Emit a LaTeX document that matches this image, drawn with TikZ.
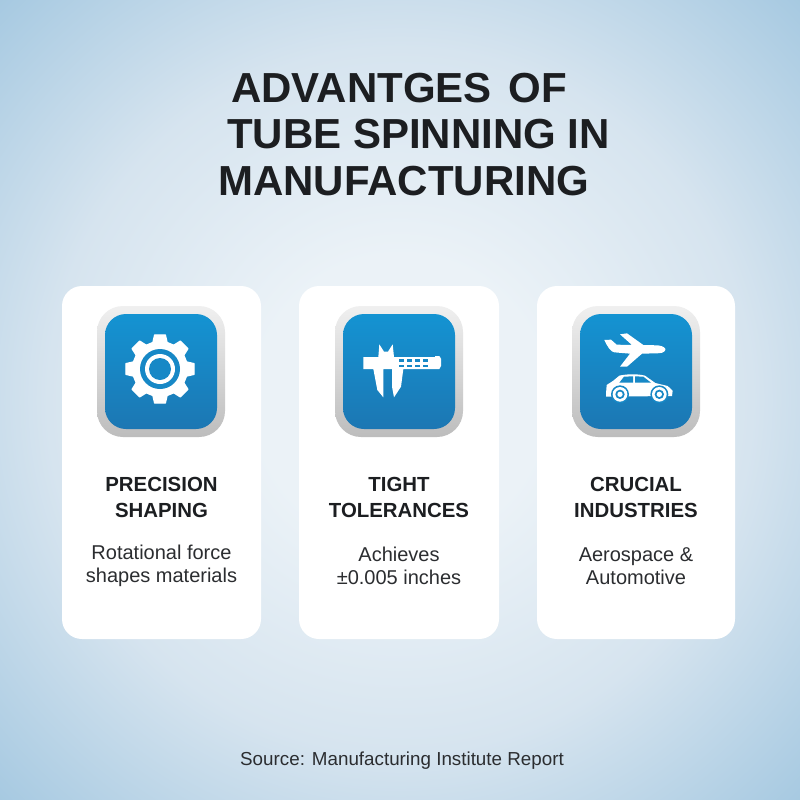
\documentclass[tikz,border=0pt]{standalone}
\usepackage{fontspec}
\setmainfont{Liberation Sans}
\definecolor{bgA}{HTML}{EBF2F7}
\definecolor{bgB}{HTML}{D6E4EF}
\definecolor{bgC}{HTML}{A6C9E1}
\definecolor{blueT}{HTML}{1493D2}
\definecolor{blueB}{HTML}{1C77B3}
\definecolor{ink}{HTML}{1C1E21}
\definecolor{body}{HTML}{2B2D30}
\pgfdeclareradialshading{bgshade}{\pgfpoint{0bp}{0bp}}{color(0bp)=(bgA); color(9bp)=(bgA); color(22bp)=(bgB); color(35.5bp)=(bgC); color(50bp)=(bgC)}
\tikzset{
  card/.style={fill=white,rounded corners=20pt},
  frame/.style={top color=black!6,bottom color=black!26,rounded corners=26pt},
  tile/.style={top color=blueT,bottom color=blueB,rounded corners=21pt},
  titletext/.style={anchor=base west,inner sep=0pt,font=\fontsize{42}{42}\selectfont\bfseries,text=ink},
  headtext/.style={align=center,inner sep=0pt,font=\fontsize{20.4}{26}\selectfont\bfseries,text=ink},
  bodytext/.style={align=center,inner sep=0pt,font=\fontsize{20}{23.5}\selectfont,text=body},
  srctext/.style={inner sep=0pt,font=\fontsize{18.8}{22}\selectfont,text=body},
  glyph/.style={fill=white},
  gearbody/.style={fill=white,draw=white,line width=1.2pt,line join=round},
  hole/.style={fill=blueT!60!blueB},
  zoomed/.style={x=0.33333pt,y=-0.33333pt}
}
\newcommand{\icontile}[2]{%
  \path[frame] (#1,306) rectangle (#2,437);
  \path[tile] (#1+8,314) rectangle (#2-8,429);
}
\begin{document}
\begin{tikzpicture}[x=1pt,y=-1pt]
\useasboundingbox (0,0) rectangle (800,800);
\shade[shading=bgshade] (0,0) rectangle (800,800);

\node[titletext] (t1) at (231,102) {ADVANTGES\hspace{5pt} OF};
\node[titletext] (t2) at (227,148) {TUBE SPINNING IN};
\node[titletext] (t3) at (218,195) {MANUFACTURING};

\path[card] (62,286) rectangle (261,639);
\path[card] (299,286) rectangle (499,639);
\path[card] (537,286) rectangle (735,639);

\icontile{97}{225}
\icontile{335}{463}
\icontile{572}{700}

% gear
\begin{scope}[shift={(160,369)}]
  \path[gearbody]
    (-9:34.5) -- (9:34.5) -- (15:27.5)
    -- (30:27.5) -- (36:34.5) -- (54:34.5) -- (60:27.5)
    -- (75:27.5) -- (81:34.5) -- (99:34.5) -- (105:27.5)
    -- (120:27.5) -- (126:34.5) -- (144:34.5) -- (150:27.5)
    -- (165:27.5) -- (171:34.5) -- (189:34.5) -- (195:27.5)
    -- (210:27.5) -- (216:34.5) -- (234:34.5) -- (240:27.5)
    -- (255:27.5) -- (261:34.5) -- (279:34.5) -- (285:27.5)
    -- (300:27.5) -- (306:34.5) -- (324:34.5) -- (330:27.5)
    -- (345:27.5) -- cycle;
  \fill[hole] (0,0) circle (20);
  \fill[glyph] (0,0) circle (15);
  \fill[hole] (0,0) circle (11);
\end{scope}

% caliper
\begin{scope}[shift={(320,290)},zoomed]
  \fill[glyph] (130,201) -- (175,201) -- (178,163) -- (192,185) -- (204,185) -- (218,163) -- (222,201)
    -- (345,201) -- (345,198) -- (358,198) -- (363,206) -- (363,228) -- (358,237) -- (345,237)
    -- (250,237) -- (243,290) -- (222,322) -- (216,290) -- (216,237) -- (190,237) -- (190,322)
    -- (172,300) -- (160,237) -- (130,237) -- cycle;
  \foreach \cx in {236,260,284,308}
    \foreach \cy in {208,224}
      \fill[hole] (\cx,\cy) rectangle ++(16,8);
\end{scope}

% plane and car
\begin{scope}[shift={(556,290)},zoomed]
  \fill[glyph] (145,150) -- (165,149) -- (182,164) -- (228,165) -- (192,133) -- (213,130) -- (262,165)
    -- (305,166) .. controls (322,168) and (330,174) .. (328,180) .. controls (325,188) and (315,190) .. (300,190)
    -- (258,191) -- (213,230) -- (192,230) -- (222,191) -- (175,187) .. controls (165,186) and (155,172) .. cycle;
  \fill[glyph] (150,312) -- (152,285) -- (172,272) -- (190,257) .. controls (215,251) and (250,252) .. (267,257)
    -- (298,279) -- (335,288) -- (350,302) -- (348,318) -- (150,320) -- cycle;
  \fill[hole] (190,278) -- (204,260) -- (231,259) -- (231,278) -- cycle;
  \fill[hole] (237,259) -- (262,260) -- (285,278) -- (237,278) -- cycle;
  \foreach \wx in {192,310}{
    \fill[hole] (\wx,313) circle (27);
    \fill[glyph] (\wx,313) circle (22);
    \fill[hole] (\wx,313) circle (14);
    \fill[glyph] (\wx,313) circle (8);
  }
\end{scope}

\node[headtext] (h1) at (161.5,497) {PRECISION\\SHAPING};
\node[headtext] (h2) at (399,497) {TIGHT\\TOLERANCES};
\node[headtext] (h3) at (636,497) {CRUCIAL\\INDUSTRIES};
\node[bodytext] (b1) at (161.5,566) {Rotational force\\shapes materials};
\node[bodytext] (b2) at (399,566) {Achieves\\±0.005 inches};
\node[bodytext] (b3) at (636,566) {Aerospace \&\\Automotive};
\node[srctext] (src) at (402,761) {Source: Manufacturing Institute Report};
\end{tikzpicture}
\end{document}
